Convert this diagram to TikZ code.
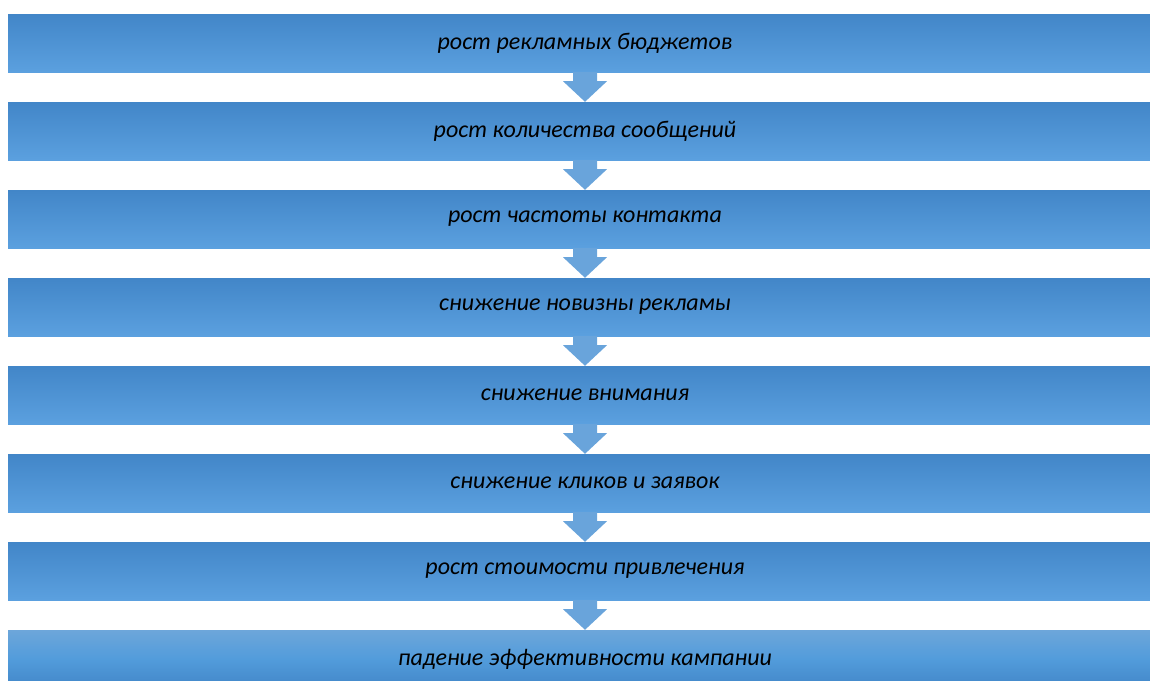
\documentclass[tikz,border=0pt]{standalone}
\usepackage{fontspec}
\setmainfont{Carlito}
\usetikzlibrary{positioning,calc}

\definecolor{boxtop}{HTML}{4286C8}
\definecolor{boxbot}{HTML}{5BA0DF}
\definecolor{arrowfill}{HTML}{69A4DB}
\definecolor{lasttop}{HTML}{6DA6DA}
\definecolor{lastmid}{HTML}{529CDB}

\tikzset{
  stagebox/.style={rectangle, minimum width=1154pt, minimum height=58pt,
    inner sep=0pt, top color=boxtop, bottom color=boxbot,
    font=\fontsize{24}{28}\selectfont\itshape, text=black},
  lastbox/.style={stagebox, top color=lasttop, bottom color=boxtop, middle color=lastmid},
  downarrow/.style={fill=arrowfill}
}

\begin{document}
\begin{tikzpicture}[x=1pt,y=-1pt]
    \useasboundingbox (0,0) rectangle (1150,680);
    \clip (0,0) rectangle (1150,680);

    % stages of the chain
    \foreach \i/\txt in {1/рост рекламных бюджетов,
                         2/рост количества сообщений,
                         3/рост частоты контакта,
                         4/снижение новизны рекламы,
                         5/снижение внимания,
                         6/снижение кликов и заявок,
                         7/рост стоимости привлечения}
        \node[stagebox] (b\i) at (585, {43 + 88*(\i-1)}) {\txt};
    \node[lastbox] (b8) at (585, 659) {падение эффективности кампании};

    % arrows between stages
    \foreach \i [evaluate=\i as \j using int(\i+1)] in {1,...,7}
        \fill[downarrow] ($(b\i.south)+(-12,0)$) -- ++(0,9) -- ++(-10,0)
            -- (b\j.north) -- ($(b\i.south)+(22,9)$) -- ++(-10,0)
            -- ($(b\i.south)+(12,0)$) -- cycle;
\end{tikzpicture}
\end{document}
